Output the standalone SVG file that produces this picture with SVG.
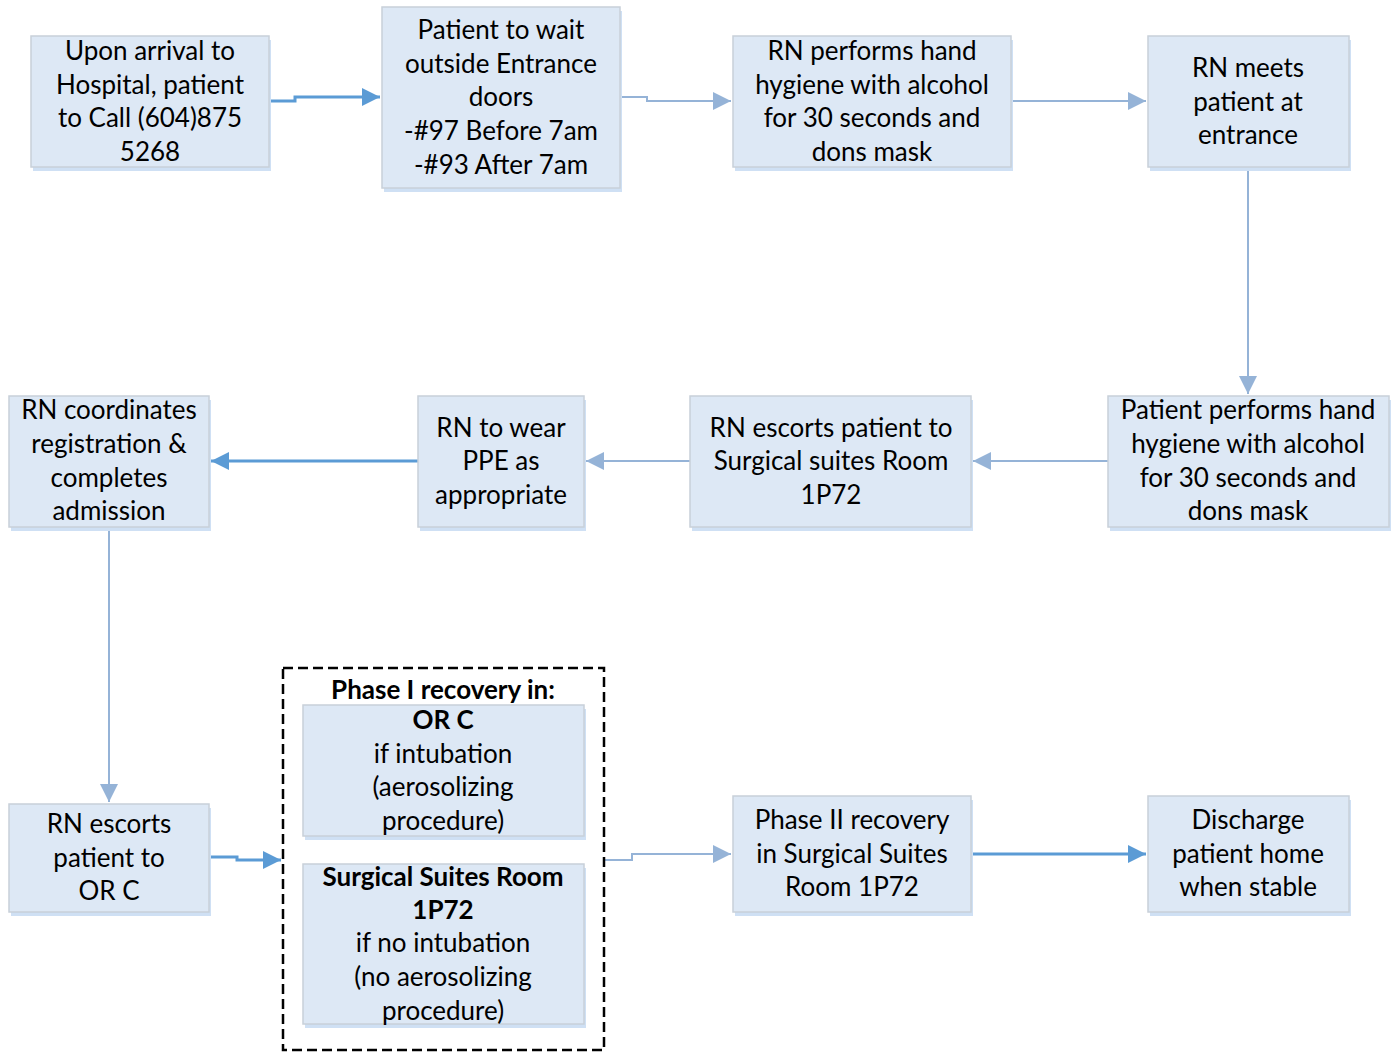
<svg xmlns="http://www.w3.org/2000/svg" width="1394" height="1052" viewBox="0 0 1394 1052">
<defs>
<style>
.sh{fill:#cfe0f4;}
.bx{fill:#dde8f5;stroke:#c8d0d9;stroke-width:1.5;}
text{font-family:Lato,"Liberation Sans",sans-serif;font-size:26px;fill:#000;text-anchor:middle;}
.b{font-weight:bold;}
.cd{fill:none;stroke:#5b9bd5;stroke-width:3;}
.cl{fill:none;stroke:#95b3d7;stroke-width:2;}
</style>
<marker id="ad" viewBox="0 0 10 10" refX="10" refY="5" markerWidth="6" markerHeight="6" markerUnits="strokeWidth" orient="auto"><path d="M0,0L10,5L0,10z" fill="#5b9bd5"/></marker>
<marker id="al" viewBox="0 0 10 10" refX="10" refY="5" markerWidth="9" markerHeight="9" markerUnits="strokeWidth" orient="auto"><path d="M0,0L10,5L0,10z" fill="#95b3d7"/></marker>
</defs>
<rect width="1394" height="1052" fill="#fff"/>
<g id="connectors">
<path class="cd" d="M269,101H295V97H380" marker-end="url(#ad)"/>
<path class="cl" d="M620,97H647V101H731" marker-end="url(#al)"/>
<path class="cl" d="M1011,101H1146" marker-end="url(#al)"/>
<path class="cl" d="M1248,167V394" marker-end="url(#al)"/>
<path class="cl" d="M1108,461H973" marker-end="url(#al)"/>
<path class="cl" d="M690,461H586" marker-end="url(#al)"/>
<path class="cd" d="M418,461H211" marker-end="url(#ad)"/>
<path class="cl" d="M109,527V802" marker-end="url(#al)"/>
<path class="cd" d="M209,857H237V860H281" marker-end="url(#ad)"/>
<path class="cl" d="M604,860H632V854H731" marker-end="url(#al)"/>
<path class="cd" d="M971,854H1146" marker-end="url(#ad)"/>
</g>
<g id="n1"><rect class="sh" x="33" y="40" width="238" height="131"/><rect class="bx" x="31" y="36" width="238" height="131"/>
<text x="150" y="60">Upon arrival to</text><text x="150" y="94">Hospital, patient</text><text x="150" y="127">to Call (604)875</text><text x="150" y="161">5268</text></g>
<g id="n2"><rect class="sh" x="384" y="11" width="238" height="181"/><rect class="bx" x="382" y="7" width="238" height="181"/>
<text x="501" y="39">Patient to wait</text><text x="501" y="73">outside Entrance</text><text x="501" y="106">doors</text><text x="501" y="140">-#97 Before 7am</text><text x="501" y="174">-#93 After 7am</text></g>
<g id="n3"><rect class="sh" x="735" y="40" width="278" height="131"/><rect class="bx" x="733" y="36" width="278" height="131"/>
<text x="872" y="60">RN performs hand</text><text x="872" y="94">hygiene with alcohol</text><text x="872" y="127">for 30 seconds and</text><text x="872" y="161">dons mask</text></g>
<g id="n4"><rect class="sh" x="1150" y="40" width="201" height="131"/><rect class="bx" x="1148" y="36" width="201" height="131"/>
<text x="1248" y="77">RN meets</text><text x="1248" y="111">patient at</text><text x="1248" y="144">entrance</text></g>
<g id="n5"><rect class="sh" x="1110" y="400" width="281" height="131"/><rect class="bx" x="1108" y="396" width="281" height="131"/>
<text x="1248" y="419">Patient performs hand</text><text x="1248" y="453">hygiene with alcohol</text><text x="1248" y="487">for 30 seconds and</text><text x="1248" y="520">dons mask</text></g>
<g id="n6"><rect class="sh" x="692" y="400" width="281" height="131"/><rect class="bx" x="690" y="396" width="281" height="131"/>
<text x="831" y="437">RN escorts patient to</text><text x="831" y="470">Surgical suites Room</text><text x="831" y="504">1P72</text></g>
<g id="n7"><rect class="sh" x="420" y="400" width="166" height="131"/><rect class="bx" x="418" y="396" width="166" height="131"/>
<text x="501" y="437">RN to wear</text><text x="501" y="470">PPE as</text><text x="501" y="504">appropriate</text></g>
<g id="n8"><rect class="sh" x="11" y="400" width="200" height="131"/><rect class="bx" x="9" y="396" width="200" height="131"/>
<text x="109" y="419">RN coordinates</text><text x="109" y="453">registration &amp;</text><text x="109" y="487">completes</text><text x="109" y="520">admission</text></g>
<g id="n9"><rect class="sh" x="11" y="808" width="200" height="108"/><rect class="bx" x="9" y="804" width="200" height="108"/>
<text x="109" y="833">RN escorts</text><text x="109" y="867">patient to</text><text x="109" y="900">OR C</text></g>
<g id="phase1">
<rect x="283" y="668" width="321" height="382" fill="#fff" stroke="#000" stroke-width="2.5" stroke-dasharray="10,5"/>
<text class="b" x="443" y="699">Phase I recovery in:</text>
<g id="phase1a"><rect class="sh" x="305" y="709" width="281" height="131"/><rect class="bx" x="303" y="705" width="281" height="131"/>
<text class="b" x="443" y="729">OR C</text><text x="443" y="763">if intubation</text><text x="443" y="796">(aerosolizing</text><text x="443" y="830">procedure)</text></g>
<g id="phase1b"><rect class="sh" x="305" y="868" width="281" height="160"/><rect class="bx" x="303" y="864" width="281" height="160"/>
<text class="b" x="443" y="886">Surgical Suites Room</text><text class="b" x="443" y="919">1P72</text><text x="443" y="952">if no intubation</text><text x="443" y="986">(no aerosolizing</text><text x="443" y="1020">procedure)</text></g>
</g>
<g id="n10"><rect class="sh" x="735" y="800" width="238" height="116"/><rect class="bx" x="733" y="796" width="238" height="116"/>
<text x="852" y="829">Phase II recovery</text><text x="852" y="863">in Surgical Suites</text><text x="852" y="896">Room 1P72</text></g>
<g id="n11"><rect class="sh" x="1150" y="800" width="201" height="116"/><rect class="bx" x="1148" y="796" width="201" height="116"/>
<text x="1248" y="829">Discharge</text><text x="1248" y="863">patient home</text><text x="1248" y="896">when stable</text></g>
</svg>
